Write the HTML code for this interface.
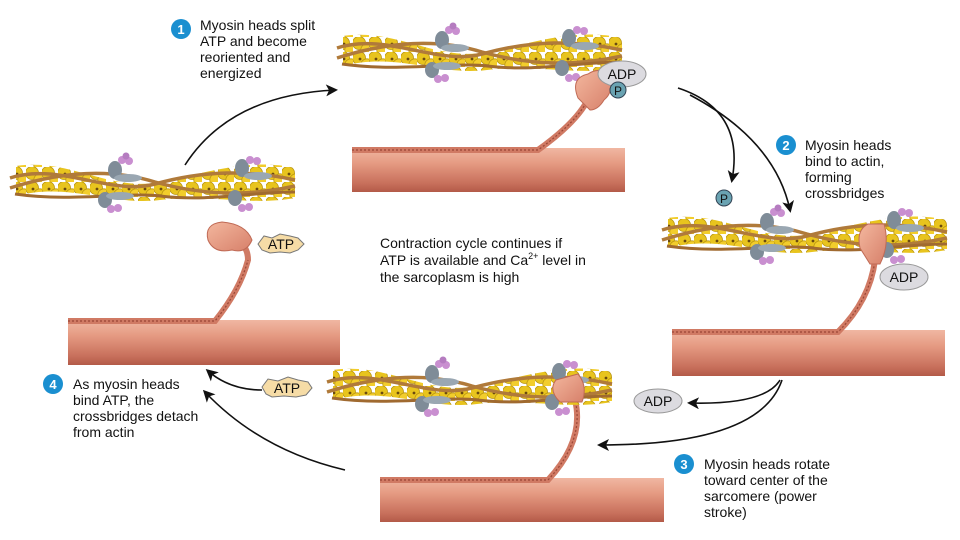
<!DOCTYPE html>
<html><head><meta charset="utf-8"><style>
html,body{margin:0;padding:0;background:#fff}
svg{display:block}
text{font-family:"Liberation Sans",sans-serif;fill:#111}
</style></head><body>
<svg width="960" height="540" viewBox="0 0 960 540">
<defs>
<linearGradient id="rod" x1="0" y1="0" x2="0" y2="1">
<stop offset="0" stop-color="#f0b7a2"/><stop offset="0.35" stop-color="#e59a82"/><stop offset="0.8" stop-color="#c8705c"/><stop offset="1" stop-color="#b35a48"/></linearGradient>
<linearGradient id="head" x1="0" y1="0" x2="1" y2="1">
<stop offset="0" stop-color="#f3b79e"/><stop offset="1" stop-color="#d7806a"/></linearGradient>
<pattern id="balls" width="16" height="15" patternUnits="userSpaceOnUse">
<circle cx="6" cy="6" r="6.5" fill="#e8c41e" stroke="#b89410" stroke-width="0.8"/>
<circle cx="14" cy="13" r="6.2" fill="#f2cd2c" stroke="#b89410" stroke-width="0.8"/>
<circle cx="7" cy="7" r="1.4" fill="#6a4a10"/>
</pattern>
<g id="actin">
<path d="M6,-16 C60,-24 100,10 150,0 C200,-10 240,-24 285,-14 L285,16 C240,24 200,12 150,18 C100,24 60,0 6,14 Z" fill="url(#balls)"/>
<path d="M0,-4 C50,-20 100,14 145,2 C195,-12 240,-12 285,-2" fill="none" stroke="#b07a3a" stroke-width="3.5"/>
<path d="M0,6 C50,-10 100,-14 145,0 C195,14 240,14 285,4" fill="none" stroke="#b07a3a" stroke-width="3.5"/>
<path d="M5,12 C60,20 120,10 150,14 C200,20 240,10 285,10" fill="none" stroke="#a06a30" stroke-width="3"/>
<ellipse cx="105" cy="-12" rx="7" ry="9" fill="#7f8c98"/><ellipse cx="118" cy="-4" rx="14" ry="4" fill="#9aa7b2"/>
<circle cx="112" cy="-22" r="4" fill="#c98fd0"/><circle cx="119" cy="-21" r="4" fill="#c98fd0"/><circle cx="116" cy="-26" r="3.5" fill="#b57cc0"/>
<ellipse cx="95" cy="18" rx="7" ry="8" fill="#7f8c98"/><ellipse cx="110" cy="14" rx="14" ry="4" fill="#9aa7b2"/>
<circle cx="101" cy="27" r="4" fill="#c98fd0"/><circle cx="108" cy="26" r="4" fill="#c98fd0"/>
<ellipse cx="232" cy="-14" rx="7" ry="9" fill="#7f8c98"/><ellipse cx="248" cy="-6" rx="14" ry="4" fill="#9aa7b2"/>
<circle cx="240" cy="-22" r="4" fill="#c98fd0"/><circle cx="247" cy="-21" r="4" fill="#c98fd0"/>
<ellipse cx="225" cy="16" rx="7" ry="8" fill="#7f8c98"/>
<circle cx="232" cy="26" r="4" fill="#c98fd0"/><circle cx="239" cy="25" r="4" fill="#c98fd0"/>
</g>
<marker id="ah" markerWidth="12" markerHeight="12" refX="9" refY="6" orient="auto" markerUnits="userSpaceOnUse"><path d="M0,0 L12,6 L0,12 L3,6 Z" fill="#111"/></marker>
</defs>

<rect x="352" y="148" width="273" height="44" fill="url(#rod)"/>
<rect x="68" y="320" width="272" height="45" fill="url(#rod)"/>
<rect x="672" y="330" width="273" height="46" fill="url(#rod)"/>
<rect x="380" y="478" width="284" height="44" fill="url(#rod)"/>

<g fill="none" stroke="#d07a64" stroke-width="6">
<path d="M352,150 L538,150 Q580,120 590,95"/>
<path d="M68,321 L215,321 Q240,290 248,260 Q248,245 235,240"/>
<path d="M672,332 L838,332 Q870,300 875,260"/>
<path d="M380,480 L548,480 Q585,440 575,400"/>
</g>
<g fill="none" stroke="#9a4636" stroke-width="1.2" stroke-dasharray="2 2">
<path d="M352,150 L538,150 Q580,120 590,95"/>
<path d="M68,321 L215,321 Q240,290 248,260"/>
<path d="M672,332 L838,332 Q870,300 875,260"/>
<path d="M380,480 L548,480 Q585,440 575,400"/>
</g>

<use href="#actin" transform="translate(337,52)"/>
<use href="#actin" transform="translate(10,182)"/>
<use href="#actin" transform="translate(662,234)"/>
<use href="#actin" transform="translate(327,386)"/>

<path d="M578,98 Q570,78 588,74 Q600,66 610,76 Q614,92 604,100 Q598,110 590,110 Z" fill="url(#head)" stroke="#c06a55"/>
<path d="M208,240 Q204,224 222,222 Q246,224 252,240 Q246,254 232,250 Q214,254 208,240 Z" fill="url(#head)" stroke="#c06a55"/>
<path d="M860,248 Q856,230 868,224 L884,224 Q890,244 880,264 L870,264 Z" fill="url(#head)" stroke="#c06a55"/>
<path d="M560,402 Q548,390 556,380 L578,374 Q588,386 582,402 Z" fill="url(#head)" stroke="#c06a55"/>

<ellipse cx="622" cy="74" rx="24" ry="13" fill="#dcdbe0" stroke="#999"/>
<text x="622" y="79" font-size="14" text-anchor="middle">ADP</text>
<circle cx="618" cy="90" r="8" fill="#6aa3b2" stroke="#345"/><text x="618" y="95" font-size="12" text-anchor="middle">P</text>
<circle cx="724" cy="198" r="8" fill="#6aa3b2" stroke="#345"/><text x="724" y="203" font-size="12" text-anchor="middle">P</text>
<ellipse cx="904" cy="277" rx="24" ry="13" fill="#dcdbe0" stroke="#999"/>
<text x="904" y="282" font-size="14" text-anchor="middle">ADP</text>
<ellipse cx="658" cy="401" rx="24" ry="12" fill="#dcdbe0" stroke="#999"/>
<text x="658" y="406" font-size="14" text-anchor="middle">ADP</text>
<polygon points="258,244 264,236 272,238 280,234 290,236 298,238 304,244 298,250 290,253 280,252 270,253 262,250" fill="#f6dca6" stroke="#777"/>
<text x="281" y="249" font-size="14" text-anchor="middle">ATP</text>
<polygon points="262,387 268,379 278,381 288,377 298,380 308,382 312,388 306,395 296,397 284,396 272,397 266,394" fill="#f6dca6" stroke="#777"/>
<text x="287" y="393" font-size="14" text-anchor="middle">ATP</text>

<g fill="none" stroke="#111" stroke-width="1.6">
<path d="M185,165 Q230,95 335,90" marker-end="url(#ah)"/>
<path d="M678,88 Q745,110 732,180" marker-end="url(#ah)"/>
<path d="M690,95 Q775,140 790,210" marker-end="url(#ah)"/>
<path d="M780,380 Q765,405 690,403" marker-end="url(#ah)"/>
<path d="M782,380 Q760,445 600,445" marker-end="url(#ah)"/>
<path d="M262,390 Q230,390 208,371" marker-end="url(#ah)"/>
<path d="M345,470 Q260,450 205,392" marker-end="url(#ah)"/>
</g>

<g font-size="14">
<circle cx="181" cy="29" r="10" fill="#1a8fd0"/><text x="181" y="34" style="fill:#fff" font-size="13" font-weight="bold" text-anchor="middle">1</text>
<text x="200" y="30">Myosin heads split</text><text x="200" y="46">ATP and become</text><text x="200" y="62">reoriented and</text><text x="200" y="78">energized</text>
<circle cx="786" cy="145" r="10" fill="#1a8fd0"/><text x="786" y="150" style="fill:#fff" font-size="13" font-weight="bold" text-anchor="middle">2</text>
<text x="805" y="150">Myosin heads</text><text x="805" y="166">bind to actin,</text><text x="805" y="182">forming</text><text x="805" y="198">crossbridges</text>
<circle cx="684" cy="464" r="10" fill="#1a8fd0"/><text x="684" y="469" style="fill:#fff" font-size="13" font-weight="bold" text-anchor="middle">3</text>
<text x="704" y="469">Myosin heads rotate</text><text x="704" y="485">toward center of the</text><text x="704" y="501">sarcomere (power</text><text x="704" y="517">stroke)</text>
<circle cx="53" cy="384" r="10" fill="#1a8fd0"/><text x="53" y="389" style="fill:#fff" font-size="13" font-weight="bold" text-anchor="middle">4</text>
<text x="73" y="389">As myosin heads</text><text x="73" y="405">bind ATP, the</text><text x="73" y="421">crossbridges detach</text><text x="73" y="437">from actin</text>
<text x="380" y="248">Contraction cycle continues if</text>
<text x="380" y="265">ATP is available and Ca<tspan font-size="9" dy="-6">2+</tspan><tspan dy="6"> level in</tspan></text>
<text x="380" y="282">the sarcoplasm is high</text>
</g>
</svg>
</body></html>
